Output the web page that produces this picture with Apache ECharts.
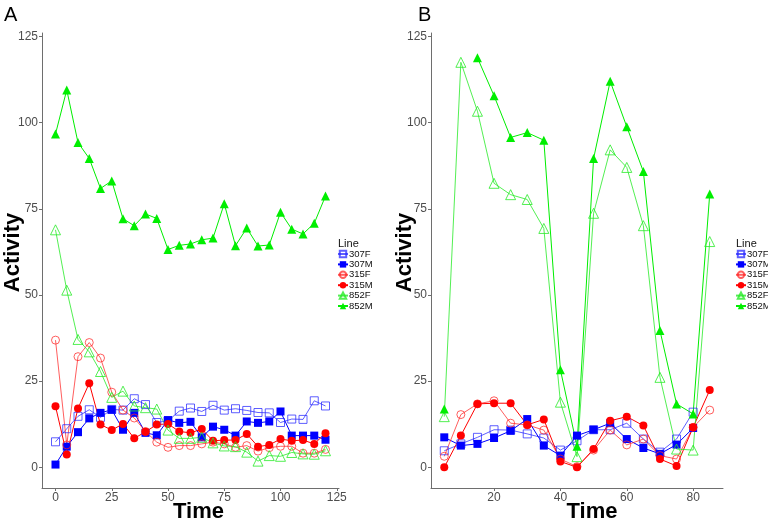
<!DOCTYPE html>
<html>
<head>
<meta charset="utf-8">
<script src="https://cdn.jsdelivr.net/npm/echarts@6/dist/echarts.min.js"></script>
<style>
html,body{margin:0;padding:0;background:#fff;}
#chart{width:768px;height:524px;}
</style>
</head>
<body>
<div id="chart"></div>
<script>
// ---- Data ----
const timesA = [0,5,10,15,20,25,30,35,40,45,50,55,60,65,70,75,80,85,90,95,100,105,110,115,120];
const a307F = [7.4,11.2,14.8,16.7,14.5,16.8,16.6,19.9,18.2,13.0,13.5,16.3,17.2,16.2,18.0,16.6,17.0,16.5,15.9,15.8,13.0,14.0,13.9,19.3,17.8];
const a307M = [0.8,6.0,10.2,14.2,15.8,16.7,10.9,15.8,10.0,9.3,13.7,12.9,13.2,8.7,11.8,10.9,9.2,13.3,12.9,13.3,16.2,9.2,9.2,9.2,8.0];
const a315F = [36.9,6.5,32.1,36.2,31.7,21.8,16.6,14.3,10.4,7.3,5.8,6.3,6.3,6.8,7.3,6.8,5.8,6.3,4.7,5.7,6.1,6.1,4.1,4.1,5.2];
const a315M = [17.7,3.7,17.1,24.4,12.4,10.8,12.6,8.4,10.3,12.4,12.6,10.4,10.0,11.1,7.7,7.9,7.9,9.7,6.0,6.5,8.2,7.7,7.9,6.8,9.9];
const a852F = [68.9,51.4,37.1,33.5,27.8,20.3,22.1,17.8,17.3,16.9,10.8,8.4,8.4,8.7,7.1,6.2,6.0,4.4,1.8,3.4,3.2,4.3,3.9,3.8,4.8];
const a852M = [96.7,109.5,94.2,89.6,80.9,83.1,72.1,70.1,73.5,72.2,63.2,64.4,64.8,66.0,66.5,76.5,64.3,69.4,64.2,64.5,74.0,69.1,67.7,70.8,78.7];

const timesB = [5,10,15,20,25,30,35,40,45,50,55,60,65,70,75,80,85];
const b307F = [4.8,6.8,8.7,10.9,10.8,9.7,8.5,5.0,7.7,10.9,10.9,12.8,8.2,4.4,8.2,16.0,null];
const b307M = [8.7,6.3,6.8,8.5,10.6,14.0,6.3,3.4,9.2,10.9,12.8,8.2,5.6,3.9,6.6,11.4,null];
const b315F = [3.2,15.3,18.4,19.3,12.8,12.3,10.8,2.4,0.2,5.0,10.8,6.5,8.2,3.4,2.4,11.6,16.6];
const b315M = [0,9.2,18.4,18.6,18.6,12.3,13.9,1.7,0,5.3,13.5,14.7,12.1,2.4,0.4,11.6,22.4];
const b852F = [14.7,117.5,103.3,82.4,79.1,77.7,69.3,18.9,3.1,73.7,92.1,87.0,70.1,26.1,5.3,5.0,65.5];
const b852M = [16.9,null,118.8,107.8,95.7,97.1,94.9,28.3,6.1,89.6,112.0,98.8,85.8,39.7,18.4,15.5,79.3];

const lineNames = ['307F','307M','315F','315M','852F','852M'];
const yTicks = [0,25,50,75,100,125];
const xTicksA = [0,25,50,75,100,125];
const xTicksB = [20,40,60,80];

// ---- Styles ----
const FONT = 'Liberation Sans, Arial, sans-serif';
const styleOf = {
  '307F': {color:'rgba(40,40,255,0.75)', symbol:'rect', open:true, size:8},
  '307M': {color:'#0000FF', symbol:'rect', open:false, size:8},
  '315F': {color:'rgba(255,40,40,0.75)', symbol:'circle', open:true, size:8},
  '315M': {color:'#FF0000', symbol:'circle', open:false, size:8},
  '852F': {color:'rgba(40,235,40,0.8)', symbol:'triangle', open:true, size:10},
  '852M': {color:'#00EE00', symbol:'triangle', open:false, size:9}
};

function pairs(times, vals){ return times.map((t,i)=>[t, vals[i]]); }

function mkSeries(name, idx, times, vals){
  const s = styleOf[name];
  return {
    type:'line', name:name, xAxisIndex:idx, yAxisIndex:idx,
    data: pairs(times, vals),
    symbol: s.symbol, symbolSize: s.size, showAllSymbol:true,
    connectNulls:false, animation:false,
    lineStyle:{color:s.color, width:1},
    itemStyle: s.open ? {color:'rgba(255,255,255,0)', borderColor:s.color, borderWidth:1}
                      : {color:s.color, borderWidth:0},
    emphasis:{disabled:true}
  };
}

const seriesA = [a307F,a307M,a315F,a315M,a852F,a852M];
const seriesB = [b307F,b307M,b315F,b315M,b852F,b852M];
const series = [];
lineNames.forEach((n,i)=>series.push(mkSeries(n,0,timesA,seriesA[i])));
lineNames.forEach((n,i)=>series.push(mkSeries(n,1,timesB,seriesB[i])));

function xAxis(idx, min, max, ticks, pad){
  return {
    type:'value', gridIndex:idx, min:min, max:max,
    name:'Time', nameLocation:'middle', nameGap:13, nameMoveOverlap:false,
    nameTextStyle:{fontSize:22, fontWeight:'bold', color:'#000', fontFamily:FONT, padding:[0,0,0,pad]},
    axisLine:{show:true, onZero:false, lineStyle:{color:'#6e6e6e', width:1}},
    axisTick:{show:true, length:3, customValues:ticks, lineStyle:{color:'#6e6e6e'}},
    axisLabel:{customValues:ticks, fontSize:12, color:'#4D4D4D', fontFamily:FONT, margin:4},
    splitLine:{show:false}
  };
}
function yAxis(idx, gap){
  return {
    type:'value', gridIndex:idx, min:-6, max:126,
    name:'Activity', nameLocation:'middle', nameGap:gap, nameMoveOverlap:false,
    nameTextStyle:{fontSize:22, fontWeight:'bold', color:'#000', fontFamily:FONT, padding:[0,0,0,16]},
    axisLine:{show:true, onZero:false, lineStyle:{color:'#6e6e6e', width:1}},
    axisTick:{show:true, length:3, customValues:yTicks, lineStyle:{color:'#6e6e6e'}},
    axisLabel:{customValues:yTicks, fontSize:12, color:'#4D4D4D', fontFamily:FONT, margin:4},
    splitLine:{show:false}
  };
}

function legend(left){
  return {
    orient:'vertical', left:left, top:249, padding:0, data:lineNames,
    itemWidth:10, itemHeight:8, itemGap:0.4, selectedMode:false,
    textStyle:{fontSize:9.5, color:'#111', fontFamily:FONT, padding:[0,0,0,-4], lineHeight:10}
  };
}

const chart = echarts.init(document.getElementById('chart'), null, {renderer:'canvas'});
chart.setOption({
  backgroundColor:'#fff',
  animation:false,
  title:[
    {text:'A', left:4, top:5, padding:0, textStyle:{fontSize:20, fontWeight:'normal', color:'#000', fontFamily:FONT}},
    {text:'B', left:418, top:5, padding:0, textStyle:{fontSize:20, fontWeight:'normal', color:'#000', fontFamily:FONT}},
    {text:'Line', left:338, top:238, padding:0, textStyle:{fontSize:11, fontWeight:'normal', color:'#111', fontFamily:FONT}},
    {text:'Line', left:736, top:238, padding:0, textStyle:{fontSize:11, fontWeight:'normal', color:'#111', fontFamily:FONT}}
  ],
  grid:[
    {left:42, top:33, width:297, height:455, containLabel:false, outerBoundsMode:'none'},
    {left:431, top:33, width:292, height:455, containLabel:false, outerBoundsMode:'none'}
  ],
  xAxis:[xAxis(0,-6,126,xTicksA,16), xAxis(1,1,89,xTicksB,30)],
  yAxis:[yAxis(0,18), yAxis(1,15)],
  legend:[legend(337), legend(735)],
  series:series
});
</script>
</body>
</html>
